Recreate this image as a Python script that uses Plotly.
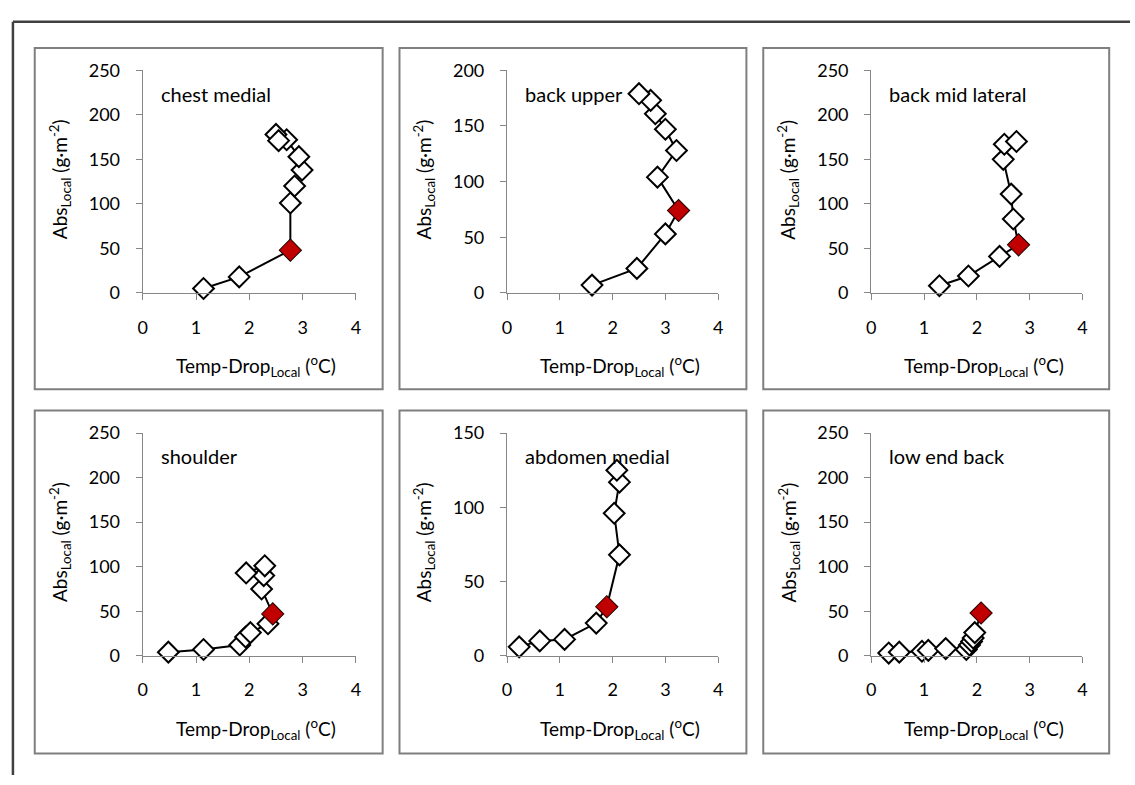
import plotly.graph_objects as go

# ---------------- data ----------------
panel_names = ["chest medial", "back upper", "back mid lateral",
               "shoulder", "abdomen medial", "low end back"]

chest_medial_x = [1.14, 1.81, 2.77, 2.77, 2.85, 2.99, 2.93, 2.70, 2.50, 2.55]
chest_medial_y = [5, 18, 48, 101, 120, 138, 153, 172, 178, 171]

back_upper_x = [1.61, 2.46, 3.00, 3.25, 2.85, 3.21, 3.00, 2.81, 2.72, 2.50]
back_upper_y = [7, 22, 53, 74, 104, 128, 147, 161, 173, 179]

back_mid_lateral_x = [1.29, 1.84, 2.43, 2.79, 2.69, 2.65, 2.50, 2.52, 2.75]
back_mid_lateral_y = [8, 19, 41, 54, 83, 111, 150, 167, 170]

shoulder_x = [0.48, 1.14, 1.82, 1.93, 2.02, 2.35, 2.44, 2.23, 2.27, 2.29, 1.94]
shoulder_y = [4, 7, 12, 21, 26, 36, 47, 75, 90, 101, 93]

abdomen_medial_x = [0.23, 0.62, 1.09, 1.69, 1.89, 2.13, 2.03, 2.13, 2.08]
abdomen_medial_y = [6, 10, 11, 22, 33, 68, 96, 117, 125]

low_end_back_x = [0.33, 0.53, 0.96, 1.08, 1.41, 1.80, 1.86, 1.90, 1.93, 1.96, 2.08]
low_end_back_y = [3, 4, 5, 6, 8, 7, 12, 16, 20, 26, 48]

highlight_index = [2, 3, 3, 6, 4, 10]
y_max = [250, 200, 250, 250, 150, 250]
x_ticks = [0, 1, 2, 3, 4]

series_x = [chest_medial_x, back_upper_x, back_mid_lateral_x,
            shoulder_x, abdomen_medial_x, low_end_back_x]
series_y = [chest_medial_y, back_upper_y, back_mid_lateral_y,
            shoulder_y, abdomen_medial_y, low_end_back_y]

# ---------------- layout geometry (pixels) ----------------
W, H = 1135, 785
FONT = "Lato"
axis_x_px = [(139, 354), (506.5, 719.5), (874, 1087)]
axis_y_px = [(60, 289), (433.3, 662.3)]
box_x_px = [(30, 381), (398, 748), (765, 1114)]
box_y_px = [(37, 388), (410, 763)]

def px(x):
    return x / W

def py(y):
    return 1 - y / H

fig = go.Figure()
layout = dict(
    width=W, height=H,
    margin=dict(l=0, r=0, t=0, b=0),
    paper_bgcolor="white", plot_bgcolor="white",
    showlegend=False,
    font=dict(family=FONT, color="#000000"),
)
annotations = []
shapes = []

for i in range(6):
    row, col = divmod(i, 3)
    n = i + 1
    xa = "x" if n == 1 else f"x{n}"
    ya = "y" if n == 1 else f"y{n}"
    xs, ys = series_x[i], series_y[i]
    h = highlight_index[i]

    fig.add_trace(go.Scatter(
        x=xs, y=ys, xaxis=xa, yaxis=ya, mode="lines+markers",
        line=dict(color="#000000", width=2),
        marker=dict(symbol="diamond", size=16, color="white",
                    line=dict(color="#000000", width=2)),
        cliponaxis=False, hoverinfo="x+y",
    ))
    fig.add_trace(go.Scatter(
        x=[xs[h]], y=[ys[h]], xaxis=xa, yaxis=ya, mode="markers",
        marker=dict(symbol="diamond", size=16, color="#C00000",
                    line=dict(color="#8a0000", width=1)),
        cliponaxis=False, hoverinfo="x+y",
    ))

    x0, x1 = axis_x_px[col]
    y0, y1 = axis_y_px[row]
    key_x = "xaxis" if n == 1 else f"xaxis{n}"
    key_y = "yaxis" if n == 1 else f"yaxis{n}"
    layout[key_x] = dict(
        domain=[px(x0), px(x1)], anchor=ya, range=[0, 4],
        tickvals=x_ticks, showgrid=False, zeroline=False,
        showline=True, linecolor="#868686", linewidth=1.3,
        ticks="outside", ticklen=6, tickcolor="#868686", tickwidth=1.3,
        ticklabelstandoff=12,
        tickfont=dict(family=FONT, size=18, color="#000000"),
    )
    layout[key_y] = dict(
        domain=[py(y1), py(y0)], anchor=xa, range=[0, y_max[i]],
        dtick=50, showgrid=False, zeroline=False,
        showline=True, linecolor="#868686", linewidth=1.3,
        ticks="outside", ticklen=6, tickcolor="#868686", tickwidth=1.3,
        ticklabelstandoff=12,
        tickfont=dict(family=FONT, size=18, color="#000000"),
    )

    # panel box
    bx0, bx1 = box_x_px[col]
    by0, by1 = box_y_px[row]
    shapes.append(dict(type="rect", xref="paper", yref="paper",
                       x0=px(bx0), x1=px(bx1), y0=py(by1), y1=py(by0),
                       line=dict(color="#7f7f7f", width=2), layer="below"))

    # panel label
    annotations.append(dict(
        text=panel_names[i], xref="paper", yref="paper",
        x=px(x0 + 16), y=py(y0 + 24), xanchor="left", yanchor="middle",
        showarrow=False, font=dict(family=FONT, size=20, color="#000000")))

    # x title
    annotations.append(dict(
        text="Temp-Drop<sub>Local</sub> (<sup>o</sup>C)",
        xref="paper", yref="paper",
        x=px((x0 + x1) / 2 + 7), y=py(y1 + 75), xanchor="center",
        yanchor="middle", showarrow=False,
        font=dict(family=FONT, size=19, color="#000000")))

    # y title
    annotations.append(dict(
        text="Abs<sub>Local</sub> (g·m<sup>-2</sup>)",
        xref="paper", yref="paper",
        x=px(x0 - 84), y=py((y0 + y1) / 2 - 2), xanchor="center",
        yanchor="middle", textangle=-90, showarrow=False,
        font=dict(family=FONT, size=19, color="#000000")))

# outer frame (top and left edges visible)
shapes.append(dict(type="line", xref="paper", yref="paper",
                   x0=px(8), x1=px(1135), y0=py(10), y1=py(10),
                   line=dict(color="#404040", width=2.5)))
shapes.append(dict(type="line", xref="paper", yref="paper",
                   x0=px(8), x1=px(8), y0=py(10), y1=py(785),
                   line=dict(color="#404040", width=2.5)))

layout["annotations"] = annotations
layout["shapes"] = shapes
fig.update_layout(**layout)

page_fix = (
    "var de=document.documentElement, b=document.body;"
    "[de,b].forEach(function(e){e.style.margin='0';e.style.padding='0';"
    "e.style.overflow='hidden';});"
)
fig.write_html(
    "out.html",
    config={"responsive": False, "displayModeBar": False},
    post_script=page_fix,
)
